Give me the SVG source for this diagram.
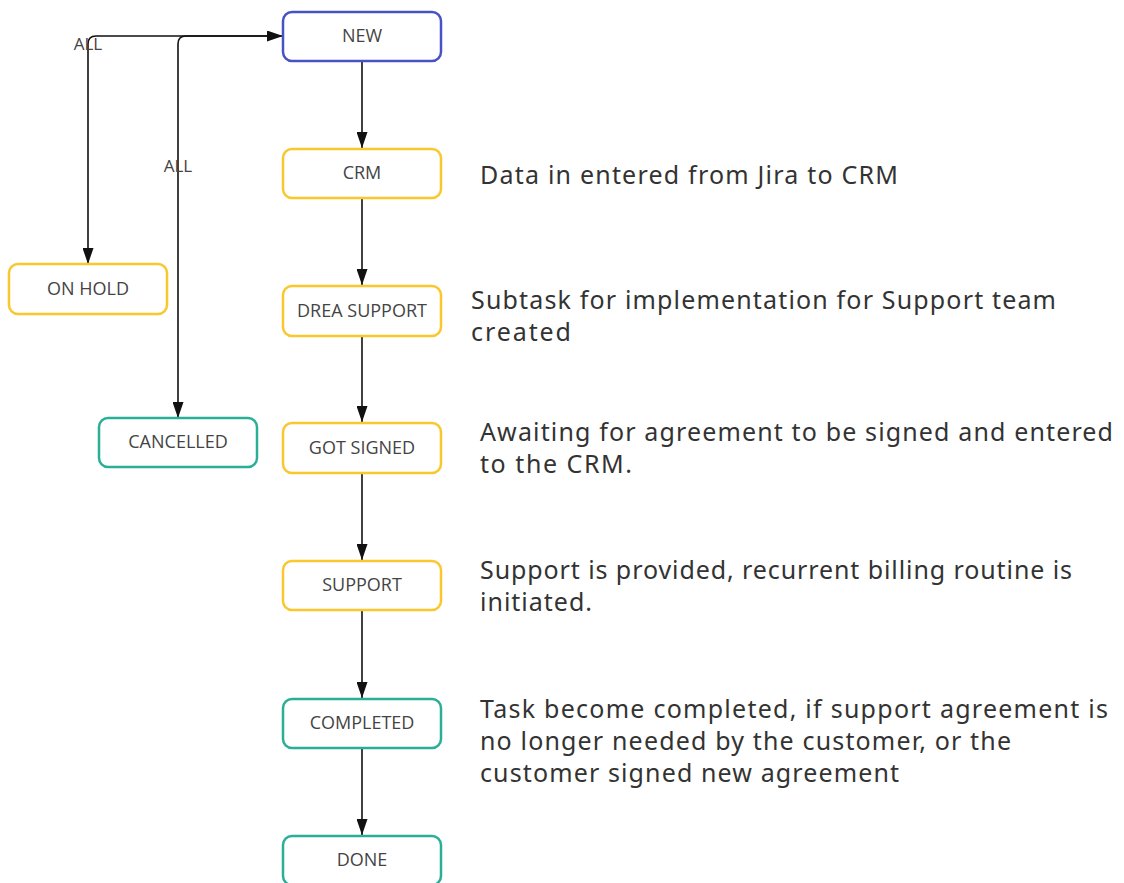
<svg xmlns="http://www.w3.org/2000/svg" width="1124" height="883" viewBox="0 0 1124 883">
<style>
.box{fill:#fff;stroke-width:2.5}
.blue{stroke:#4752c4}
.yellow{stroke:#fac72c}
.teal{stroke:#2aaf96}
.lbl{font-family:"Open Sans","Noto Sans",sans-serif;font-size:18px;fill:#444;text-anchor:middle}
.edge{fill:none;stroke:#111;stroke-width:1.6}
.elbl{font-family:"Open Sans","Noto Sans",sans-serif;font-size:17px;fill:#444;text-anchor:middle}
.desc{font-family:"Noto Sans","Liberation Sans",sans-serif;font-size:25px;fill:#333}
</style>
<defs>
<marker id="arr" viewBox="0 0 16 11" refX="16" refY="5.5" markerWidth="16" markerHeight="11" markerUnits="userSpaceOnUse" orient="auto-start-reverse">
<path d="M0,0 L16,5.5 L0,11 z" fill="#111"/>
</marker>
</defs>
<rect width="1124" height="883" fill="#fff"/>
<g id="connectors">
<path class="edge" d="M88,264 V44 Q88,36 96,36 H283" marker-start="url(#arr)" marker-end="url(#arr)"/>
<path class="edge" d="M178,418 V44 Q178,36 186,36 H270" marker-start="url(#arr)"/>
<path class="edge" d="M362,62 V148" marker-end="url(#arr)"/>
<path class="edge" d="M362,199 V285" marker-end="url(#arr)"/>
<path class="edge" d="M362,337 V422" marker-end="url(#arr)"/>
<path class="edge" d="M362,474 V560" marker-end="url(#arr)"/>
<path class="edge" d="M362,611 V698" marker-end="url(#arr)"/>
<path class="edge" d="M362,749 V835" marker-end="url(#arr)"/>
<text class="elbl" x="88" y="50">ALL</text>
<text class="elbl" x="178" y="172">ALL</text>
</g>
<g id="new"><rect class="box blue" x="283" y="12" width="158" height="49" rx="9"/><text class="lbl" x="362" y="42">NEW</text></g>
<g id="crm"><rect class="box yellow" x="283" y="149" width="158" height="49" rx="9"/><text class="lbl" x="362" y="179">CRM</text></g>
<g id="drea-support"><rect class="box yellow" x="283" y="286" width="158" height="50" rx="9"/><text class="lbl" x="362" y="317">DREA SUPPORT</text></g>
<g id="got-signed"><rect class="box yellow" x="283" y="423" width="158" height="50" rx="9"/><text class="lbl" x="362" y="454">GOT SIGNED</text></g>
<g id="support"><rect class="box yellow" x="283" y="561" width="158" height="49" rx="9"/><text class="lbl" x="362" y="591">SUPPORT</text></g>
<g id="completed"><rect class="box teal" x="283" y="699" width="158" height="49" rx="9"/><text class="lbl" x="362" y="729">COMPLETED</text></g>
<g id="done"><rect class="box teal" x="283" y="836" width="158" height="49" rx="9"/><text class="lbl" x="362" y="866">DONE</text></g>
<g id="on-hold"><rect class="box yellow" x="9" y="264" width="158" height="50" rx="9"/><text class="lbl" x="88" y="295">ON HOLD</text></g>
<g id="cancelled"><rect class="box teal" x="99" y="418" width="158" height="49" rx="9"/><text class="lbl" x="178" y="448">CANCELLED</text></g>
<g id="descriptions">
<text class="desc" x="480" y="184" textLength="418">Data in entered from Jira to CRM</text>
<text class="desc" x="471" y="309" textLength="585">Subtask for implementation for Support team</text>
<text class="desc" x="471" y="341" textLength="100">created</text>
<text class="desc" x="480" y="441" textLength="633">Awaiting for agreement to be signed and entered</text>
<text class="desc" x="480" y="473" textLength="152">to the CRM.</text>
<text class="desc" x="480" y="579" textLength="592">Support is provided, recurrent billing routine is</text>
<text class="desc" x="480" y="611" textLength="112">initiated.</text>
<text class="desc" x="480" y="718" textLength="628">Task become completed, if support agreement is</text>
<text class="desc" x="480" y="750" textLength="531">no longer needed by the customer, or the</text>
<text class="desc" x="480" y="782" textLength="419">customer signed new agreement</text>
</g>
</svg>
